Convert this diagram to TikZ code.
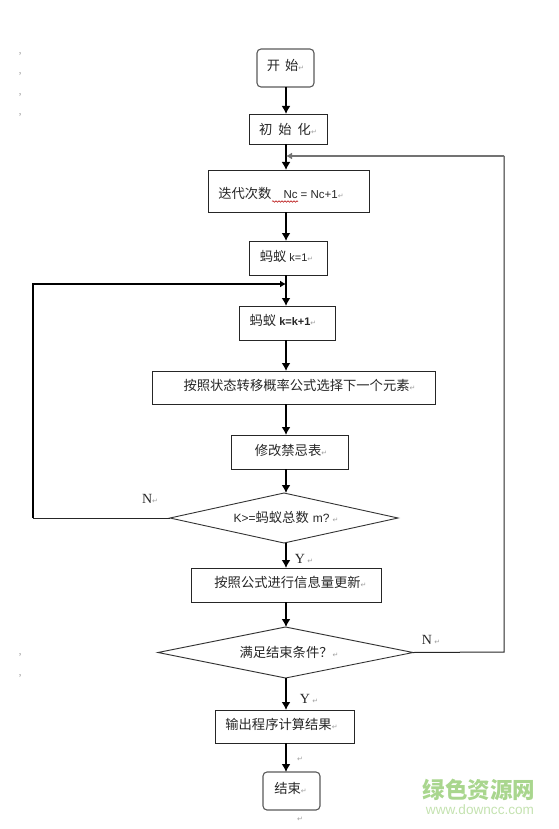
\documentclass[tikz,border=0pt]{standalone}
\usepackage{fontspec}
\setmainfont{Liberation Serif}
\setsansfont{Liberation Sans}
\newfontfamily\cjk{Noto Sans CJK SC}
\newfontfamily\symf{DejaVu Sans}
\usetikzlibrary{shapes.geometric,arrows.meta,decorations.pathmorphing}
\newcommand{\ret}{{\color{gray!75}\fontsize{7}{7}\symf ↵}}
\definecolor{wmA}{HTML}{A9D68E}
\definecolor{wmB}{HTML}{C4E2B0}
\tikzset{
  x=1pt,y=-1pt,
  every node/.style={inner sep=0pt,outer sep=0pt,font=\fontsize{13.3}{14}\cjk,text=black!85},
  boxn/.style={draw=black!85,line width=.9pt,rectangle,minimum width=#1},
  boxn/.default=50pt,
  term/.style={draw=black!65,line width=1.1pt,rectangle,rounded corners=4pt},
  dec/.style={draw=black!80,line width=.9pt,diamond},
  flow/.style={line width=1.9pt,black,-{Latex[length=8pt,width=9pt]}},
  backgray/.style={line width=1.3pt,black!55,-{Latex[length=6pt,width=7pt]}},
  backblack/.style={line width=1.7pt,black,-{Latex[length=6pt,width=7pt]}},
  thinline/.style={line width=1pt,black!85},
  yn/.style={font=\fontsize{14}{14}\selectfont\rmfamily},
  marginmark/.style={font=\fontsize{12}{12}\selectfont\rmfamily,text=gray!70}
}
\begin{document}
\begin{tikzpicture}
\useasboundingbox (0,0) rectangle (558,829);
\coordinate (spine) at (286,0);
% nodes
\node[term,minimum width=57pt,minimum height=38pt,text height=7pt,text depth=2pt] (start) at (285.5,68) {开\kern5pt 始\ret};
\node[boxn=78pt,minimum height=30pt,text height=13pt,text depth=2pt] (init) at (288,129) {初\kern6pt 始\kern6pt 化\ret};
\node[boxn=161pt,minimum height=42pt,text height=17pt,text depth=2pt] (iter) at (288.5,191) {迭代次数\kern12pt{\fontsize{11.5}{12}\sffamily Nc = Nc+1}\ret\kern15pt};
\node[boxn=78pt,minimum height=34pt,text height=9pt,text depth=2pt] (kone) at (288,258) {蚂蚁 {\fontsize{11}{12}\sffamily k=1}\ret\kern3pt};
\node[boxn=96pt,minimum height=34pt,text height=7pt,text depth=2pt] (kinc) at (287,323) {蚂蚁 {\fontsize{11}{12}\sffamily\bfseries k=k+1}\ret\kern8pt};
\node[boxn=283pt,minimum height=33pt,text height=8pt,text depth=2pt] (sel) at (293.5,387.5) {\kern12pt 按照状态转移概率公式选择下一个元素\ret};
\node[boxn=117pt,minimum height=34pt,text height=9pt,text depth=2pt] (mod) at (289.5,452) {\kern3pt 修改禁忌表\ret};
\node[dec,aspect=4.56,minimum width=228pt,minimum height=50pt,text height=11pt,text depth=2pt] (d1) at (284,518) {\kern4pt{\fontsize{12}{12}\sffamily K>=}蚂蚁总数\kern4pt{\fontsize{12}{12}\sffamily m?}\kern3pt\ret};
\node[boxn=190pt,minimum height=34pt,text height=7pt,text depth=2pt] (upd) at (286,585) {\kern9pt 按照公式进行信息量更新\ret};
\node[dec,aspect=5,minimum width=255pt,minimum height=51pt,text height=11pt,text depth=2pt] (d2) at (285.5,652.5) {\kern7pt 满足结束条件？\ret};
\node[boxn=139pt,minimum height=33pt,text height=8pt,text depth=2pt] (out) at (284.5,726.5) {输出程序计算结果\ret\kern6pt};
\node[term,minimum width=57pt,minimum height=38pt,text height=7pt,text depth=2pt] (stop) at (291.5,791) {结束\ret\kern2pt};
% labels
\node[yn] (n1) at (150,499) {N\ret};
\node[yn] (y1) at (304,559) {Y\,\ret};
\node[yn] (n2) at (431,640) {N\,\ret};
\node[yn] (y2) at (309,699) {Y\,\ret};
\node (r1) at (300,759) {\ret};
\node (r2) at (300,819) {\ret};
% margin marks
\node[marginmark] (m1) at (20,57) {'};
\node[marginmark] (m2) at (20,77) {'};
\node[marginmark] (m3) at (20,98) {'};
\node[marginmark] (m4) at (20,118) {'};
\node[marginmark] (m5) at (20,658) {'};
\node[marginmark] (m6) at (20,679) {'};
% watermark
\node[font=\fontsize{22.5}{24}\cjk\bfseries,text=wmA] (wm1) at (479,790) {绿色资源网};
\node[font=\fontsize{13.6}{14}\sffamily,text=wmB] (wm2) at (480,810) {www.downcc.com};
% junctions
\coordinate (j1) at (286,156);
\coordinate (j2) at (286,284);
\coordinate (cR1) at (504,652);
\coordinate (cR2) at (504,156);
\coordinate (cL1) at (33,518);
\coordinate (cL2) at (33,284);
% flow
\foreach \a/\b in {start/init,init/iter,iter/kone,kone/kinc,kinc/sel,sel/mod,mod/d1,d1/upd,upd/d2,d2/out,out/stop}
  \draw[flow] (\a.south -| spine) -- (\b.north -| spine);
% feedback
\draw[thinline] (d1.west) -- (cL1);
\draw[backblack] (cL1) -- (cL2) -- (j2);
\draw[thinline] (d2.east) -- (cR1) -- (cR2);
\draw[backgray] (cR2) -- (j1);
% spell-check squiggle
\coordinate (sq1) at (272,201.5);
\coordinate (sq2) at (298,201.5);
\draw[red!70!black,line width=.5pt,decorate,decoration={snake,amplitude=.8pt,segment length=3pt}] (sq1) -- (sq2);
\end{tikzpicture}
\end{document}
